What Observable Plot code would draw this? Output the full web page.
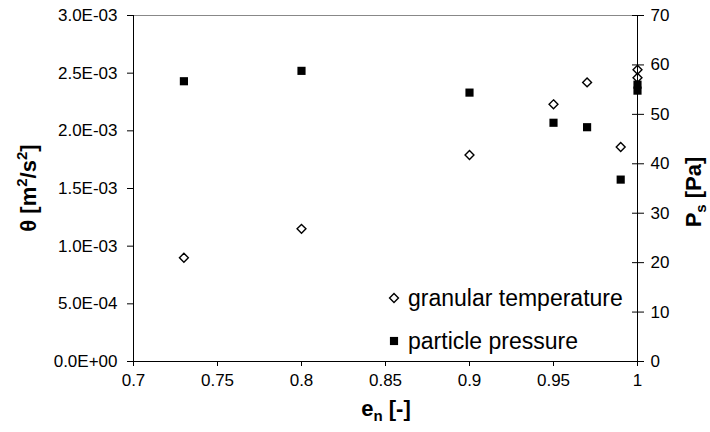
<!DOCTYPE html>
<html><head><meta charset="utf-8">
<script src="https://cdn.jsdelivr.net/npm/d3@7"></script>
<script src="https://cdn.jsdelivr.net/npm/@observablehq/plot@0.6"></script>
<style>body{margin:0;background:#fff;} #chart{width:710px;height:432px;}</style>
</head><body><div id="chart"></div>
<script>
// granular temperature series
const enTemp = [0.73, 0.8, 0.9, 0.95, 0.97, 0.99, 1.0, 1.0];
const theta  = [0.90e-3, 1.15e-3, 1.79e-3, 2.23e-3, 2.42e-3, 1.86e-3, 2.46e-3, 2.53e-3];
// particle pressure series
const enPress  = [0.73, 0.8, 0.9, 0.95, 0.97, 0.99, 1.0, 1.0];
const pressure = [56.7, 58.8, 54.4, 48.3, 47.4, 36.8, 54.8, 56.0];
// ticks
const xTicks = [0.7, 0.75, 0.8, 0.85, 0.9, 0.95, 1];
const thetaTicks = [0, 5e-4, 1e-3, 1.5e-3, 2e-3, 2.5e-3, 3e-3];
const pressTicks = [0, 10, 20, 30, 40, 50, 60, 70];
const xDomain = [0.7, 1];
const thetaMax = 3e-3, pressMax = 70;
const k = thetaMax / pressMax;
const seriesNames = ["granular temperature", "particle pressure"];

const fmtE = d => {
  if (d === 0) return "0.0E+00";
  const e = Math.floor(Math.log10(d) + 1e-9);
  const m = d / Math.pow(10, e);
  return m.toFixed(1) + "E" + (e < 0 ? "-" : "+") + String(Math.abs(e)).padStart(2, "0");
};

const FONT = "'Liberation Sans', Arial, sans-serif";
const tempData = enTemp.map((x, i) => ({x, y: theta[i]}));
const pressData = enPress.map((x, i) => ({x, y: pressure[i] * k}));

const plot = Plot.plot({
  width: 710, height: 432,
  marginLeft: 133, marginRight: 73, marginTop: 15, marginBottom: 71,
  style: {fontFamily: FONT, fontSize: "17px", color: "#000", background: "#fff", overflow: "visible"},
  x: {domain: xDomain},
  y: {domain: [0, thetaMax]},
  marks: [
    Plot.ruleY([thetaMax], {stroke: "#888", strokeWidth: 1}),
    Plot.ruleY([0], {stroke: "#000", strokeWidth: 1}),
    Plot.ruleX(xDomain, {stroke: "#000", strokeWidth: 1}),
    Plot.axisX(xTicks, {tickSize: 5, tickPadding: 7, tickFormat: d => String(d), label: null, stroke: "#000"}),
    Plot.axisY(thetaTicks, {anchor: "left", tickSize: 6, tickPadding: 10, tickFormat: fmtE, label: null}),
    Plot.axisY(pressTicks.map(v => v * k), {anchor: "right", tickSize: 6, tickPadding: 7, tickFormat: d => String(Math.round(d / k)), label: null}),
    Plot.axisY(pressTicks.map(v => v * k), {anchor: "right", tickSize: -6, tickFormat: () => "", label: null}),
    Plot.dot(pressData, {x: "x", y: "y", symbol: "square", r: 4.6, fill: "#000", stroke: "none"}),
    Plot.dot(tempData, {x: "x", y: "y", symbol: "diamond2", r: 4, fill: "none", stroke: "#000", strokeWidth: 1.4})
  ]
});
document.getElementById("chart").appendChild(plot);

const svg = d3.select(plot);
const titleStyle = t => t.attr("font-family", FONT).attr("font-weight", "bold").attr("font-size", 22).attr("fill", "#000").attr("text-anchor", "middle");

// left title
const lt = svg.append("text").attr("transform", "translate(36,188) rotate(-90)").call(titleStyle);
lt.append("tspan").text("θ [m");
lt.append("tspan").attr("dy", -9).attr("font-size", 15).text("2");
lt.append("tspan").attr("dy", 9).text("/s");
lt.append("tspan").attr("dy", -9).attr("font-size", 15).text("2");
lt.append("tspan").attr("dy", 9).text("]");

// right title
const rt = svg.append("text").attr("transform", "translate(701,192) rotate(-90)").call(titleStyle);
rt.append("tspan").text("P");
rt.append("tspan").attr("dy", 5).attr("font-size", 15).text("s");
rt.append("tspan").attr("dy", -5).text(" [Pa]");

// bottom title
const bt = svg.append("text").attr("transform", "translate(386,416)").call(titleStyle);
bt.append("tspan").text("e");
bt.append("tspan").attr("dy", 5).attr("font-size", 15).text("n");
bt.append("tspan").attr("dy", -5).text(" [-]");

// legend
const lg = svg.append("g").attr("font-family", FONT).attr("font-size", 23).attr("fill", "#000").attr("text-anchor", "start");
const ld = d3.symbol(d3.symbolDiamond2, 4 * 4 * Math.PI)();
const ls = d3.symbol(d3.symbolSquare, 4.6 * 4.6 * Math.PI)();
lg.append("path").attr("d", ld).attr("transform", "translate(394,298)").attr("fill", "none").attr("stroke", "#000").attr("stroke-width", 1.4);
lg.append("text").attr("x", 408).attr("y", 298).attr("dy", "0.35em").text(seriesNames[0]);
lg.append("path").attr("d", ls).attr("transform", "translate(394,341)").attr("fill", "#000");
lg.append("text").attr("x", 408).attr("y", 341).attr("dy", "0.35em").text(seriesNames[1]);
</script>
</body></html>
